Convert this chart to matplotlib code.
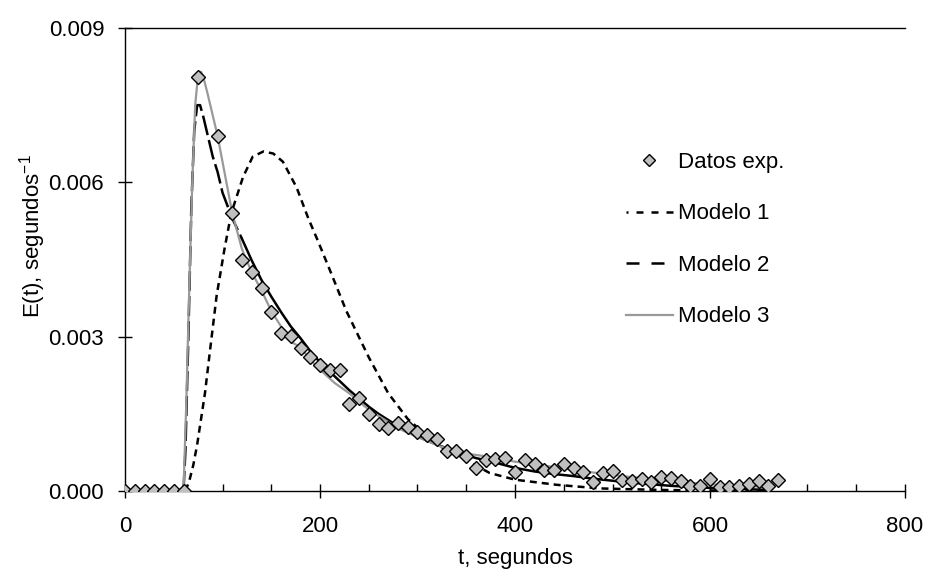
import numpy as np
import matplotlib
matplotlib.use("Agg")
import matplotlib.pyplot as plt
from matplotlib.lines import Line2D
from matplotlib.ticker import MultipleLocator, FormatStrFormatter

plt.rcParams['font.family'] = ['Liberation Sans', 'DejaVu Sans']
plt.rcParams['mathtext.fontset'] = 'custom'
plt.rcParams['mathtext.rm'] = 'Liberation Sans'

# experimental points (t in s, E in 1/s)
t_exp = [0, 10, 20, 30, 40, 50, 60, 75, 95, 110, 120, 130, 140, 150, 160, 170,
         180, 190, 200, 210, 220, 230, 240, 250, 260, 270, 280, 290, 300, 310,
         320, 330, 340, 350, 360, 370, 380, 390, 400, 410, 420, 430, 440, 450,
         460, 470, 480, 490, 500, 510, 520, 530, 540, 550, 560, 570, 580, 590,
         600, 610, 620, 630, 640, 650, 660, 670]
e_exp = [0, 0, 0, 0, 0, 0, 0, 0.00805, 0.0069, 0.00541, 0.00449, 0.00425,
         0.00395, 0.00348, 0.00307, 0.00302, 0.00278, 0.00261, 0.00245, 0.00235,
         0.00236, 0.00169, 0.00181, 0.0015, 0.0013, 0.00122, 0.00133, 0.00124,
         0.00115, 0.00109, 0.00101, 0.00077, 0.00078, 0.00068, 0.00045, 0.0006,
         0.00062, 0.00064, 0.00036, 0.0006, 0.00053, 0.00041, 0.0004, 0.00053,
         0.00044, 0.00036, 0.00018, 0.00035, 0.00038, 0.00022, 0.0002, 0.00023,
         0.00017, 0.00027, 0.00025, 0.00019, 0.0001, 0.00009, 0.00024, 0.00007,
         0.00007, 0.0001, 0.00013, 0.0002, 0.00009, 0.00022]

# Modelo 1 (dotted)
t_m1 = [62, 66, 70, 74, 78, 82, 87, 94, 102, 109, 121, 131, 142, 152, 162, 176,
        188, 197, 210, 227, 250, 270, 290, 320, 350, 374, 400, 443, 487, 550,
        600, 660]
e_m1 = [0, 0.0002, 0.0005, 0.0009, 0.0014, 0.0019, 0.0027, 0.0038, 0.0047,
        0.0054, 0.0061, 0.0065, 0.0066, 0.00656, 0.0064, 0.0059, 0.0053, 0.0049,
        0.0043, 0.0035, 0.0026, 0.0019, 0.0014, 0.0009, 0.0006, 0.00035, 0.00022,
        0.00012, 0.00005, 0.00002, 0.00001, 0]

# Modelo 2 (long dash)
t_m2 = [60, 62, 65, 68, 71, 74, 77, 80, 85, 90, 95, 100, 110, 120, 130, 140,
        150, 160, 170, 180, 190, 200, 210, 220, 230, 240, 250, 260, 270, 280,
        290, 300, 320, 340, 360, 380, 400, 420, 440, 460, 480, 500, 520, 540,
        560, 580, 600, 630, 660]
e_m2 = [0, 0.0008, 0.003, 0.0055, 0.007, 0.0075, 0.0075, 0.0073, 0.0069, 0.0065,
        0.0062, 0.0058, 0.0053, 0.0049, 0.00448, 0.0041, 0.00378, 0.00348,
        0.0032, 0.00297, 0.00272, 0.0025, 0.00232, 0.00214, 0.00196, 0.0018,
        0.00164, 0.0015, 0.00138, 0.00126, 0.00115, 0.00106, 0.0009, 0.00076,
        0.00064, 0.00055, 0.00045, 0.00038, 0.00033, 0.00029, 0.00024, 0.0002,
        0.00016, 0.00013, 0.0001, 0.00008, 0.00006, 0.00004, 0.00002]

# Modelo 3 (grey solid)
t_m3 = [60, 63, 66, 69, 72, 75, 78, 81, 85, 90, 95, 100, 105, 110, 120, 130,
        140, 150, 160, 170, 180, 190, 200, 215, 230, 250, 265, 282, 300, 323,
        345, 368, 400, 450, 480, 510, 540, 570, 600, 630, 660]
e_m3 = [0, 0.0018, 0.004, 0.006, 0.0075, 0.0081, 0.00815, 0.008, 0.0077, 0.0073,
        0.0069, 0.0064, 0.0059, 0.0054, 0.0047, 0.00425, 0.0039, 0.0035, 0.0032,
        0.0029, 0.0028, 0.00255, 0.00236, 0.0021, 0.0019, 0.00158, 0.0014,
        0.0012, 0.00105, 0.00087, 0.00074, 0.00068, 0.00057, 0.00044, 0.00036,
        0.00029, 0.00023, 0.00017, 0.00013, 0.0001, 0.00008]

fig = plt.figure(figsize=(9.28, 5.73), dpi=100)
ax = fig.add_axes([125 / 928, 1 - 491 / 573, 780 / 928, 463 / 573])

ax.plot(t_m1, e_m1, color='black', lw=1.8, linestyle=(0, (2.8, 2.0)),
        dash_capstyle='butt', zorder=2)

# Excel restarts the dash pattern on each segment: dashes show on the peak,
# the closely spaced tail comes out solid
t2 = np.array(t_m2)
e2 = np.array(e_m2)
head = t2 <= 120
tail = t2 >= 120
ax.plot(t2[head], e2[head], color='black', lw=1.8, linestyle=(0, (8, 2)),
        dash_capstyle='butt', zorder=3)
ax.plot(t2[tail], e2[tail], color='black', lw=1.8, zorder=3)

ax.plot(t_m3, e_m3, color='#999999', lw=1.6, zorder=4)

ax.plot(t_exp, e_exp, linestyle='none', marker='D', markersize=7,
        markerfacecolor='#C0C0C0', markeredgecolor='black',
        markeredgewidth=1.0, zorder=5)

ax.set_xlim(0, 800)
ax.set_ylim(0, 0.009)
ax.xaxis.set_major_locator(MultipleLocator(200))
ax.xaxis.set_minor_locator(MultipleLocator(50))
ax.yaxis.set_major_locator(MultipleLocator(0.003))
ax.yaxis.set_major_formatter(FormatStrFormatter('%.3f'))

ax.spines['right'].set_visible(False)
for s in ['left', 'bottom', 'top']:
    ax.spines[s].set_linewidth(1.0)
ax.tick_params(axis='both', which='major', direction='inout', length=10,
               width=1.0, labelsize=16, colors='black')
ax.tick_params(axis='x', which='major', pad=13, top=False)
ax.tick_params(axis='y', which='major', pad=10)
ax.tick_params(axis='x', which='minor', direction='in', length=5, width=1.0,
               top=False)

ax.set_xlabel('t, segundos', fontsize=16, va='center')
ax.xaxis.set_label_coords(0.5, -0.145)
ax.set_ylabel(r'E(t), segundos$^{\mathrm{-1}}$', fontsize=16, va='center')
ax.yaxis.set_label_coords(-0.118, 0.55)

handles = [
    Line2D([], [], linestyle='none', marker='D', markersize=6,
           markerfacecolor='#C0C0C0', markeredgecolor='black', markeredgewidth=1.0),
    Line2D([], [], color='black', lw=1.8, linestyle=(2.0, (2.8, 3.2)),
           dash_capstyle='butt'),
    Line2D([], [], color='black', lw=1.8, linestyle=(0, (5.2, 4.8)),
           dash_capstyle='butt'),
    Line2D([], [], color='#999999', lw=1.6),
]
labels = ['Datos exp.', 'Modelo 1', 'Modelo 2', 'Modelo 3']
fig.legend(handles, labels, loc='upper left', bbox_to_anchor=(626 / 928, 1 - 152 / 573),
           frameon=False, fontsize=16, handlelength=2.1, handletextpad=0.25,
           labelspacing=1.37, borderpad=0, borderaxespad=0)

fig.savefig('out.png', dpi=100)
